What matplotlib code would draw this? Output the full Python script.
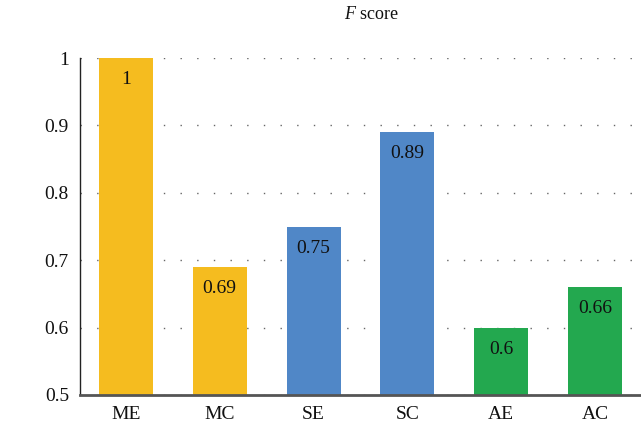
import matplotlib
matplotlib.use("Agg")
import matplotlib.pyplot as plt

categories = ["ME", "MC", "SE", "SC", "AE", "AC"]
values = [1.0, 0.69, 0.75, 0.89, 0.60, 0.66]
value_labels = ["1", "0.69", "0.75", "0.89", "0.6", "0.66"]
colors = ["#F5BC1F", "#F5BC1F", "#5087C7", "#5087C7", "#23A84F", "#23A84F"]
yticks = [0.5, 0.6, 0.7, 0.8, 0.9, 1.0]
ytick_labels = ["0.5", "0.6", "0.7", "0.8", "0.9", "1"]

plt.rcParams["font.family"] = ["Liberation Serif", "DejaVu Serif"]
plt.rcParams["mathtext.fontset"] = "custom"
plt.rcParams["mathtext.it"] = "Liberation Serif:italic"
plt.rcParams["mathtext.rm"] = "Liberation Serif"

fig = plt.figure(figsize=(6.41, 4.25), dpi=100)
ax = fig.add_axes([0.1248, 0.0706, 0.875, 0.7929])

x = list(range(len(categories)))
base = 0.5
ax.bar(x, [v - base for v in values], bottom=base, width=0.575, color=colors, zorder=2)

for xi, v, lab in zip(x, values, value_labels):
    ax.text(xi, v - 0.032, lab, ha="center", va="center", fontsize=14, color="#111111", zorder=3)

ax.set_xlim(-0.49, 5.49)
ax.set_ylim(0.5, 1.0)
ax.set_yticks(yticks)
ax.set_yticklabels(ytick_labels)
ax.set_xticks(x)
ax.set_xticklabels(categories)
ax.tick_params(axis="both", length=0, labelsize=14, colors="#111111")
ax.tick_params(axis="y", pad=8)
ax.tick_params(axis="x", pad=8)

ax.yaxis.grid(True, linestyle=(0, (1, 11)), color="#666666", linewidth=1.0, zorder=1)
ax.set_axisbelow(True)

for s in ["top", "right"]:
    ax.spines[s].set_visible(False)
ax.spines["left"].set_color("#222222")
ax.spines["left"].set_linewidth(1.0)
ax.spines["bottom"].set_color("#555555")
ax.spines["bottom"].set_linewidth(2.0)

fig.text(0.58, 0.967, r"$\mathit{F}$ score", ha="center", va="center", fontsize=13, color="#111111")

fig.savefig("out.png", dpi=100)
